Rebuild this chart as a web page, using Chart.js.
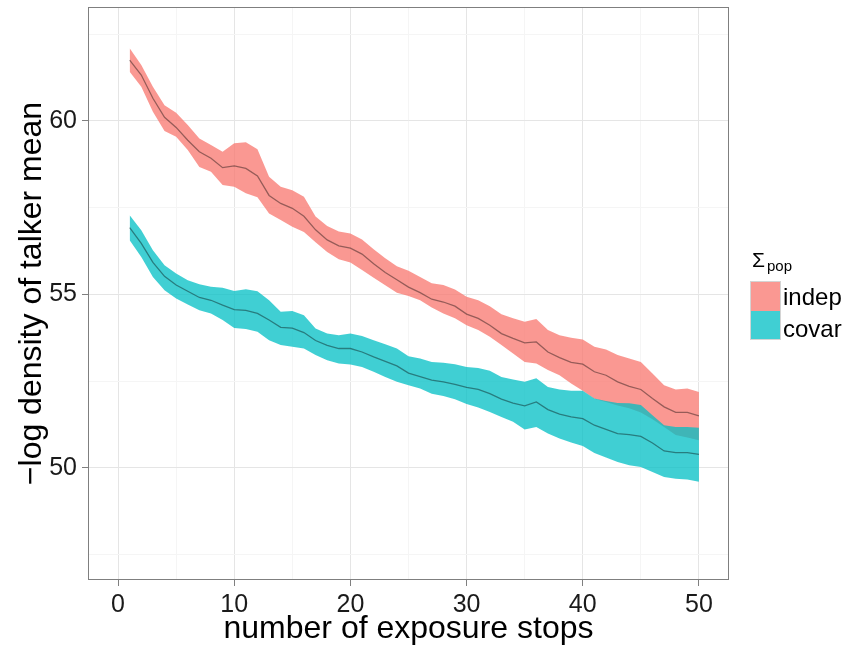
<!DOCTYPE html>
<html>
<head>
<meta charset="utf-8">
<script src="https://cdn.jsdelivr.net/npm/chart.js@4.4.1/dist/chart.umd.min.js"></script>
<style>
  html, body { margin: 0; padding: 0; background: #ffffff; }
  #wrap { position: relative; width: 850px; height: 648px; font-family: "Liberation Sans", Arial, Helvetica, sans-serif; color: #000; }
  #plot { position: absolute; left: 0; top: 0; }
  .lg { position: absolute; white-space: nowrap; }
  .key { position: absolute; left: 751px; width: 29px; }
</style>
</head>
<body>
<div id="wrap">
  <canvas id="plot" width="850" height="648"></canvas>
  <div class="lg" style="left:752px; top:249px; font-size:21px; line-height:21px;">Σ</div>
  <div class="lg" style="left:767px; top:258px; font-size:15px; line-height:15px;">pop</div>
  <div style="position:absolute; left:750px; top:281px; width:29px; height:57px; border:1px solid #d4d4d4;"></div>
  <div class="key" style="top:282px; height:29px; background:rgba(248,118,109,0.75);"></div>
  <div class="key" style="top:311px; height:28px; background:rgba(0,191,196,0.75);"></div>
  <div class="lg" style="left:783px; top:285px; font-size:24px; line-height:24px;">indep</div>
  <div class="lg" style="left:783px; top:317px; font-size:24px; line-height:24px;">covar</div>
</div>
<script>
// number of exposure stops
const stops = [1,2,3,4,5,6,7,8,9,10,11,12,13,14,15,16,17,18,19,20,21,22,23,24,25,
               26,27,28,29,30,31,32,33,34,35,36,37,38,39,40,41,42,43,44,45,46,47,48,49,50];

// Σpop = indep : mean and interval of -log density
const indepMean = [61.75,61.32,60.65,60.10,59.81,59.44,59.11,58.92,58.65,58.70,
                   58.63,58.41,57.85,57.62,57.48,57.25,56.86,56.57,56.40,56.33,
                   56.16,55.88,55.63,55.42,55.21,55.05,54.86,54.78,54.66,54.43,
                   54.31,54.11,53.87,53.73,53.60,53.63,53.34,53.18,53.04,52.99,
                   52.77,52.67,52.48,52.35,52.26,52.00,51.76,51.60,51.60,51.50];
const indepUpper = [62.09,61.61,60.98,60.45,60.23,59.88,59.49,59.30,59.11,59.35,
                    59.38,59.18,58.39,58.10,58.00,57.81,57.24,56.97,56.81,56.75,
                    56.58,56.30,56.04,55.81,55.68,55.50,55.32,55.27,55.14,54.93,
                    54.83,54.66,54.43,54.31,54.21,54.29,53.97,53.82,53.75,53.70,
                    53.49,53.41,53.25,53.15,53.05,52.72,52.38,52.26,52.29,52.19];
const indepLower = [61.41,60.98,60.26,59.71,59.54,59.16,58.67,58.53,58.15,58.10,
                    57.91,57.80,57.33,57.14,56.95,56.80,56.50,56.22,56.01,55.92,
                    55.70,55.48,55.26,55.05,54.95,54.83,54.62,54.45,54.31,54.11,
                    53.97,53.78,53.54,53.30,53.05,53.01,52.82,52.67,52.43,52.22,
                    51.99,51.90,51.80,51.72,51.60,51.40,51.18,50.95,50.88,50.80];

// Σpop = covar
const covarMean = [56.92,56.47,55.92,55.52,55.27,55.09,54.91,54.83,54.69,54.56,
                   54.54,54.45,54.26,54.05,54.03,53.90,53.67,53.53,53.44,53.44,
                   53.34,53.20,53.07,52.94,52.73,52.63,52.53,52.48,52.41,52.32,
                   52.26,52.14,51.98,51.87,51.79,51.90,51.68,51.55,51.47,51.42,
                   51.23,51.11,50.99,50.96,50.91,50.72,50.49,50.44,50.44,50.39];
const covarUpper = [57.28,56.85,56.27,55.84,55.60,55.41,55.29,55.22,55.19,55.10,
                    55.15,55.09,54.83,54.50,54.52,54.40,54.02,53.87,53.82,53.87,
                    53.80,53.68,53.56,53.44,53.22,53.15,53.05,53.03,52.99,52.91,
                    52.88,52.80,52.62,52.55,52.48,52.58,52.33,52.26,52.22,52.22,
                    52.00,51.93,51.87,51.86,51.81,51.52,51.23,51.18,51.18,51.16];
const covarLower = [56.56,56.08,55.50,55.12,54.88,54.71,54.54,54.45,54.26,54.03,
                    54.00,53.92,53.68,53.54,53.49,53.44,53.25,53.10,53.01,52.98,
                    52.91,52.77,52.62,52.48,52.38,52.29,52.14,52.07,51.98,51.84,
                    51.74,51.61,51.47,51.33,51.11,51.18,50.99,50.85,50.73,50.63,
                    50.43,50.30,50.17,50.08,50.03,49.88,49.74,49.69,49.67,49.60];

// axis ticks
const xMajorTicks = [0,10,20,30,40,50];
const xMinorTicks = [5,15,25,35,45];
const yMajorTicks = [50,55,60];
const yMinorTicks = [47.5,52.5,57.5,62.5];

const pts = arr => stops.map((s, i) => ({x: s, y: arr[i]}));

const FONT = '"Liberation Sans", Arial, Helvetica, sans-serif';
const RED_FILL = 'rgba(248,118,109,0.75)';
const TEAL_FILL = 'rgba(0,191,196,0.75)';
const LINE = 'rgba(0,0,0,0.4)';

const band = (data, fill, color, order) => ({
  data: pts(data), fill: fill, backgroundColor: color, borderWidth: 0,
  pointRadius: 0, tension: 0, order: order
});

const isMajor = (list, v) => list.some(m => Math.abs(m - v) < 1e-6);

const panelBorder = {
  id: 'panelBorder',
  afterDatasetsDraw(chart) {
    const {ctx, chartArea: a} = chart;
    ctx.save();
    ctx.strokeStyle = '#7f7f7f';
    ctx.lineWidth = 1;
    ctx.strokeRect(a.left - 0.5, a.top - 0.5, a.right - a.left + 1, a.bottom - a.top + 1);
    ctx.restore();
  }
};

new Chart(document.getElementById('plot'), {
  type: 'line',
  data: {
    datasets: [
      band(indepUpper, false, RED_FILL, 6),
      band(indepLower, '-1', RED_FILL, 5),
      band(covarUpper, false, TEAL_FILL, 4),
      band(covarLower, '-1', TEAL_FILL, 3),
      { data: pts(indepMean), borderColor: LINE, borderWidth: 1.3, pointRadius: 0, fill: false, tension: 0, order: 2 },
      { data: pts(covarMean), borderColor: LINE, borderWidth: 1.3, pointRadius: 0, fill: false, tension: 0, order: 1 }
    ]
  },
  options: {
    responsive: false,
    animation: false,
    devicePixelRatio: 1,
    layout: { padding: { top: 8, right: 122, left: 0, bottom: 0 } },
    plugins: { legend: { display: false }, tooltip: { enabled: false } },
    scales: {
      x: {
        type: 'linear', min: -2.5, max: 52.5,
        afterBuildTicks: s => { s.ticks = xMajorTicks.concat(xMinorTicks).sort((a, b) => a - b).map(v => ({value: v})); },
        afterFit: s => { s.height = 69; s.paddingLeft = 0; s.paddingRight = 0; },
        ticks: {
          maxRotation: 0, autoSkip: false, padding: 4, color: '#1a1a1a',
          font: { family: FONT, size: 25 },
          callback: v => isMajor(xMajorTicks, v) ? String(v) : ''
        },
        grid: {
          color: c => isMajor(xMajorTicks, c.tick.value) ? '#e5e5e5' : '#f5f5f5',
          tickColor: c => isMajor(xMajorTicks, c.tick.value) ? '#7f7f7f' : 'rgba(0,0,0,0)',
          tickLength: 7, lineWidth: 1
        },
        border: { display: false },
        title: { display: true, text: 'number of exposure stops', color: '#000', padding: { top: 0, bottom: 0 }, font: { family: FONT, size: 32 } }
      },
      y: {
        type: 'linear', min: 46.8, max: 63.25,
        afterBuildTicks: s => { s.ticks = yMajorTicks.concat(yMinorTicks).sort((a, b) => a - b).map(v => ({value: v})); },
        afterFit: s => { s.width = 89; s.paddingTop = 0; s.paddingBottom = 0; },
        ticks: {
          autoSkip: false, padding: 5, color: '#1a1a1a',
          font: { family: FONT, size: 25 },
          callback: v => isMajor(yMajorTicks, v) ? String(v) : ''
        },
        grid: {
          color: c => isMajor(yMajorTicks, c.tick.value) ? '#e5e5e5' : '#f5f5f5',
          tickColor: c => isMajor(yMajorTicks, c.tick.value) ? '#7f7f7f' : 'rgba(0,0,0,0)',
          tickLength: 7, lineWidth: 1
        },
        border: { display: false },
        title: { display: true, text: '\u2212log density of talker mean', color: '#000', padding: { top: 13, bottom: 0 }, font: { family: FONT, size: 32 } }
      }
    }
  },
  plugins: [panelBorder]
});
</script>
</body>
</html>
